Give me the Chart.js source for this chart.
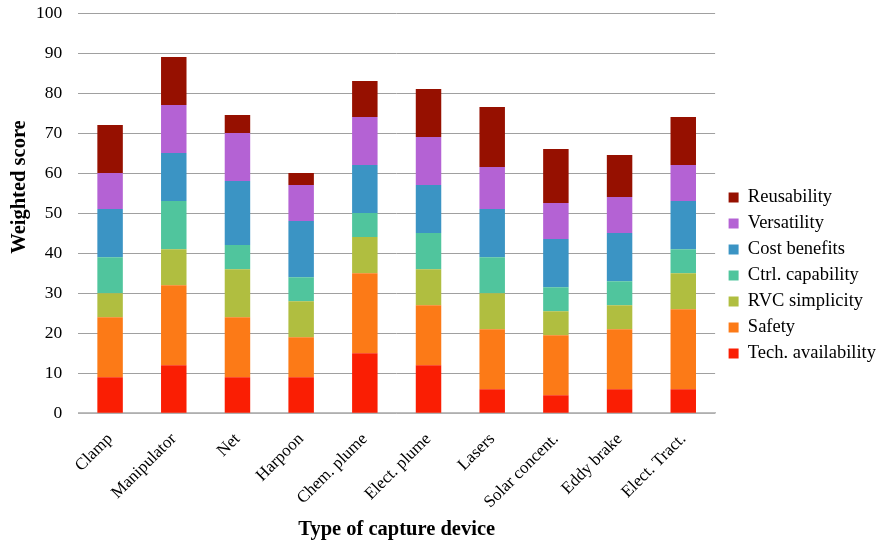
<!DOCTYPE html>
<html>
<head>
<meta charset="utf-8">
<script src="https://cdn.jsdelivr.net/npm/chart.js@4/dist/chart.umd.min.js"></script>
<style>
  html, body { margin: 0; padding: 0; background: #ffffff; }
  #wrap { width: 878px; height: 544px; position: relative; }
</style>
</head>
<body>
<div id="wrap"><canvas id="chart"></canvas></div>
<script>
// Capture devices on the x axis
const devices = ["Clamp", "Manipulator", "Net", "Harpoon", "Chem. plume", "Elect. plume", "Lasers", "Solar concent.", "Eddy brake", "Elect. Tract."];

// Weighted score contribution of each criterion, per device
const techAvailability = [9, 12, 9, 9, 15, 12, 6, 4.5, 6, 6];
const safety           = [15, 20, 15, 10, 20, 15, 15, 15, 15, 20];
const rvcSimplicity    = [6, 9, 12, 9, 9, 9, 9, 6, 6, 9];
const ctrlCapability   = [9, 12, 6, 6, 6, 9, 9, 6, 6, 6];
const costBenefits     = [12, 12, 16, 14, 12, 12, 12, 12, 12, 12];
const versatility      = [9, 12, 12, 9, 12, 12, 10.5, 9, 9, 9];
const reusability      = [12, 12, 4.5, 3, 9, 12, 15, 13.5, 10.5, 12];

const yTicks = [0, 10, 20, 30, 40, 50, 60, 70, 80, 90, 100];
const yTitle = "Weighted score";
const xTitle = "Type of capture device";

const serif = "'Liberation Serif', 'Times New Roman', serif";

const series = [
  { label: "Tech. availability", data: techAvailability, color: "#fa1e03" },
  { label: "Safety",             data: safety,           color: "#fc7a17" },
  { label: "RVC simplicity",     data: rvcSimplicity,    color: "#b0be40" },
  { label: "Ctrl. capability",   data: ctrlCapability,   color: "#50c59d" },
  { label: "Cost benefits",      data: costBenefits,     color: "#3b94c4" },
  { label: "Versatility",        data: versatility,      color: "#b462d4" },
  { label: "Reusability",        data: reusability,      color: "#961000" }
];

// Nudge the legend block a little right and up after layout
const legendOffset = {
  id: "legendOffset",
  afterLayout(chart) {
    const lg = chart.legend;
    if (!lg) return;
    lg.left += 6; lg.right += 6;
    lg.top -= 2; lg.bottom -= 2;
  }
};

// Vertical axis title, placed slightly above the plot centre
const yAxisTitle = {
  id: "yAxisTitle",
  afterDraw(chart) {
    const ctx = chart.ctx;
    ctx.save();
    ctx.translate(20, 187);
    ctx.rotate(-Math.PI / 2);
    ctx.font = "bold 20.5px " + serif;
    ctx.fillStyle = "#000";
    ctx.textAlign = "center";
    ctx.textBaseline = "middle";
    ctx.fillText(yTitle, 0, 0);
    ctx.restore();
  }
};

new Chart(document.getElementById("chart"), {
  type: "bar",
  data: {
    labels: devices,
    datasets: series.map(s => ({
      label: s.label,
      data: s.data,
      backgroundColor: s.color,
      borderWidth: 0,
      categoryPercentage: 1.0,
      barPercentage: 0.4
    }))
  },
  plugins: [legendOffset, yAxisTitle],
  options: {
    responsive: true,
    maintainAspectRatio: false,
    animation: false,
    layout: { padding: { left: 20, right: -2, top: 13, bottom: 2 } },
    plugins: {
      tooltip: { enabled: false },
      legend: {
        position: "right",
        reverse: true,
        labels: {
          boxWidth: 10,
          boxHeight: 10,
          padding: 7.5,
          color: "#000",
          font: { family: serif, size: 18.5 }
        }
      }
    },
    scales: {
      x: {
        stacked: true,
        grid: { display: false, drawTicks: false },
        border: { display: true, color: "#bdbdbd", width: 1.5 },
        ticks: {
          color: "#000",
          font: { family: serif, size: 17 },
          minRotation: 45,
          maxRotation: 45,
          padding: 16
        },
        title: {
          display: true,
          text: xTitle,
          color: "#000",
          font: { family: serif, size: 20.5, weight: "bold" },
          padding: { top: -11, bottom: 0 }
        }
      },
      y: {
        stacked: true,
        min: 0,
        max: 100,
        afterBuildTicks: axis => { axis.ticks = yTicks.map(v => ({ value: v })); },
        // the top label may overhang the plot; keep the plot top at the layout padding
        afterFit: axis => { axis.paddingTop = 0; axis.paddingBottom = 0; },
        grid: { color: "#a0a0a0", lineWidth: 1, drawTicks: false },
        border: { display: false },
        ticks: {
          color: "#000",
          font: { family: serif, size: 17.5, lineHeight: 0.5 },
          padding: 16
        }
      }
    }
  }
});
</script>
</body>
</html>
